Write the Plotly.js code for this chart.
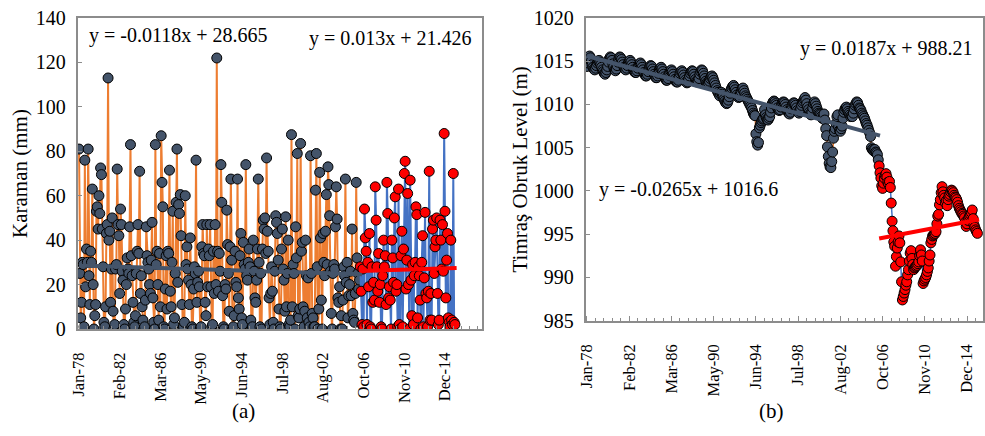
<!DOCTYPE html>
<html>
<head>
<meta charset="utf-8">
<script src="https://cdn.plot.ly/plotly-3.0.1.min.js"></script>
<style>html,body{margin:0;padding:0;background:#fff}#chart{width:985px;height:436px}</style>
</head>
<body>
<div id="chart"></div>
<script>
// Category tick labels (every 49 months on the original category axis)
const tickLabels = ["Jan-78","Feb-82","Mar-86","May-90","Jun-94","Jul-98","Aug-02","Oct-06","Nov-10","Dec-14"];
const tickIndex = [0,49,98,147,196,245,294,343,392,441];

// (a) Karaman monthly precipitation (mm), month index 0 = Jan-78
const karamanEarly = [].concat(
 [81,25,5,12,30,29,1,76,19,36,30,81],
 [24,11,35,30,63,20,0,6,11,53,55,45],
 [60,52,72.5,69.5,45,28,3,1,10,43,47,113],
 [40,44,12,27,50,8,0,2,27,29,72,47],
 [42,16,54,47,26,22,2,0,9,20,32,27],
 [25,46,83,33,24,12,3,1,6,25,35,47],
 [34,71,16,24,10,4,0,1,13,46,33,30],
 [27,20,16,31,48,14,3,0,83,29,35,20],
 [4,34,10,87,66,55,1,0,18,33,9,35],
 [34,71.5,17,10,30,53,2,5,25,57,81,21],
 [56,52,60.5,42,11,0,1,3,60,29,37,27],
 [22,11,41,20,1,0,18,28,25,76,12,21],
 [26,19,0,1,37,47,34,33,12,6,47,19],
 [36,33,47,19,1,2,35,16,47,20,122,35],
 [17,34,26,74,57,15,1,0,20,18,53.5,38],
 [25,8,37,67.5,31,0,1,6,35,21,19,67.5],
 [14,9,33,43,5,2,39,29,27,74,24,22],
 [30,36,28,4,0,1,40,26,14,12,22,36],
 [67.5,30,1,25,0,36,49,45,50,34,77,44],
 [35,14,2,16,28,17,3,0,26,51,48,43],
 [31,9,1,0,36,45,27,22,8,50.5,10,25],
 [40,2,1,4,87.5,10,29,25,0,46,32,79],
 [6,5,9,83.5,35,39,10,1,8,40,24,5],
 [23,3,1,78,25,7,5,1,1,62.5,79,28],
 [0,9,70.5,41,13,0,43,30,24,44,60.5,29],
 [73,65,51,26,7,0,25,29,27,46,64,49.5],
 [14,12,19,0,6,0,13,28,24,67.5,21,30],
 [5,15,20,26,15,45,7,4,3,16,66,32],
 [25,18,22]
);
const karamanLate = [].concat(
 [28,17,2,27,1,54,41,35,2],
 [30,19,43,1,0,28,12,21,13,64,49,28],
 [17,34,12,20,1,0,24,40,28,33,11,66],
 [52,14,19,13,0,40,32,21,50,59.5,17,20],
 [1,63,2,0,33,44,1,36,70,75.5,18,31],
 [61,20,0,67,22,6,29,2,24,30,55,51.5],
 [5,28,24,13,0,30,42,1,23,52.5,16,14],
 [1,17,71,4,16,4,45,49,25,37,40,50],
 [16,2,4,49,40,27,47,26,88,53,14,31],
 [43,5,3,1,40,4,2,70,3,2]
);
const karamanTrend1X = [0, 341], karamanTrend1Y = [28.6, 24.6];
const karamanTrend2X = [339, 455], karamanTrend2Y = [26.1, 27.5];

// (b) Timras Obruk level (m)
const levelEarly = [].concat(
 [1014.4,1014.8,1015.3,1015.6,1015.4,1015.0,1014.6,1014.3,1014.1,1014.0,1014.2,1014.5],
 [1014.8,1015.0,1015.1,1014.9,1014.6,1014.3,1014.0,1013.8,1013.6,1013.5,1013.7,1014.0],
 [1014.4,1014.9,1015.3,1015.5,1015.4,1015.1,1014.7,1014.3,1014.0,1013.9,1014.1,1014.5],
 [1014.9,1015.3,1015.5,1015.4,1015.2,1014.9,1014.6,1014.3,1014.1,1014.0,1014.2,1014.5],
 [1014.8,1015.0,1015.1,1014.9,1014.6,1014.3,1014.0,1013.8,1013.7,1013.7,1013.9,1014.2],
 [1014.5,1014.7,1014.8,1014.6,1014.3,1014.0,1013.7,1013.5,1013.3,1013.3,1013.5,1013.8],
 [1014.1,1014.4,1014.5,1014.4,1014.1,1013.8,1013.5,1013.3,1013.1,1013.1,1013.3,1013.6],
 [1014.0,1014.2,1014.3,1014.1,1013.8,1013.5,1013.2,1013.0,1012.8,1012.8,1013.0,1013.4],
 [1013.7,1013.9,1014.0,1013.8,1013.5,1013.2,1012.9,1012.7,1012.6,1012.6,1012.8,1013.2],
 [1013.6,1013.8,1013.9,1013.7,1013.4,1013.1,1012.8,1012.6,1012.5,1012.6,1012.9,1013.3],
 [1013.6,1013.8,1013.9,1013.8,1013.5,1013.2,1012.9,1012.7,1012.6,1012.7,1013.0,1013.5],
 [1013.8,1014.0,1013.9,1013.6,1013.3,1013.0,1012.7,1012.5,1012.4,1012.5,1012.7,1013.0],
 [1013.2,1013.3,1013.1,1012.8,1012.5,1012.2,1011.9,1011.6,1011.4,1011.2,1011.0,1011.2],
 [1011.4,1011.2,1010.9,1010.6,1010.4,1010.2,1010.1,1010.2,1010.5,1010.9,1011.3,1011.7],
 [1011.9,1012.1,1012.2,1012.0,1011.7,1011.4,1011.1,1010.9,1010.8,1010.9,1011.2,1011.5],
 [1011.8,1011.9,1011.6,1011.3,1011.0,1010.8,1010.6,1010.4,1010.2,1010.0,1009.8,1009.6],
 [1009.3,1009.0,1008.8,1008.7,1006.6,1005.7,1005.3,1005.6,1007.3,1007.6,1007.9,1008.1],
 [1008.3,1008.4,1009.4,1008.8,1008.5,1008.3,1008.2,1008.4,1008.6,1009.1,1009.6,1010.1],
 [1010.3,1010.4,1010.3,1010.1,1009.9,1009.6,1009.4,1009.3,1009.4,1009.7,1010.0,1010.2],
 [1010.3,1010.2,1010.0,1009.7,1009.4,1009.2,1009.0,1008.9,1009.1,1009.5,1009.9,1010.1],
 [1010.2,1010.1,1009.9,1009.6,1009.3,1009.1,1009.0,1009.2,1009.5,1009.9,1010.2,1010.4],
 [1010.6,1010.8,1010.5,1010.1,1009.7,1009.4,1009.1,1008.9,1008.8,1009.1,1009.6,1010.1],
 [1010.3,1010.1,1009.8,1009.5,1009.2,1009.0,1008.9,1008.8,1008.6,1008.4,1008.5,1008.9],
 [1008.2,1007.2,1006.4,1005.1,1004.0,1003.2,1002.8,1002.7,1003.4,1004.5,1006.1,1006.9],
 [1007.2,1007.8,1008.6,1008.8,1007.4,1007.0,1006.9,1007.2,1007.5,1008.4,1009.1,1009.4],
 [1009.6,1009.7,1009.5,1009.2,1009.0,1008.8,1008.6,1008.7,1008.6,1009.0,1009.5,1009.9],
 [1010.1,1010.3,1010.2,1009.9,1009.6,1009.5,1009.3,1009.0,1008.8,1008.6,1008.4,1008.1],
 [1007.8,1007.6,1007.3,1007.0,1006.7,1006.3,1005.0,1004.8,1004.7,1004.6,1004.8,1004.5],
 [1004.4,1004.2,1003.6]
);
const levelLate = [
 1002.9,1002.1,1001.5,1000.6,1000.3,1000.9,1001.5,1001.8,1002.0,
 1001.6,1001.0,1000.8,1001.1,1000.4,998.6,996.5,995.4,994.1,993.6,991.3,992.4,
 993.4,994.1,994.8,994.0,991.8,989.5,987.4,987.8,988.2,988.6,989.1,989.5,
 990.3,990.9,991.9,992.8,993.1,992.2,991.5,990.9,991.1,991.2,991.3,991.4,
 991.6,991.8,992.5,993.2,992.6,991.9,989.3,989.6,989.8,990.0,990.3,990.7,
 991.1,991.9,992.6,994.0,994.4,994.8,994.9,995.0,995.1,995.3,996.2,997.1,
 997.3,998.4,999.0,999.8,1000.5,999.9,999.5,999.2,998.6,998.9,998.3,999.0,
 999.4,999.6,999.9,1000.1,1000.0,999.8,999.5,999.3,999.2,999.0,998.7,998.3,
 998.0,997.8,997.6,997.4,997.3,997.1,996.9,996.4,995.9,996.2,996.6,996.9,
 997.1,997.3,997.5,997.8,996.8,996.1,995.8,995.5,995.3,995.1
];
const levelTrend1X = [0, 340], levelTrend1Y = [1015.6, 1006.4];
const levelTrend2X = [339, 455], levelTrend2Y = [994.5, 996.7];

const equations = ["y = -0.0118x + 28.665","y = 0.013x + 21.426","y = 0.0187x + 988.21","y = -0.0265x + 1016.6"];
const panelLabels = ["(a)","(b)"];
const yTitles = ["Karaman (mm)","Timraş Obruk Level (m)"];

const FONT = "Liberation Serif, Times New Roman, serif";
const ORANGE = "#ED7D31", BLUE = "#4472C4", SLATE = "#44546A", RED = "#FF0000", FRAME = "#8C8C8C";
const W = 985, H = 436;

function series(y, x0, lineColor, markerColor, xa, ya, msize, lw) {
  return {type:"scatter", mode:"lines+markers", y:y, x0:x0, dx:1, xaxis:xa, yaxis:ya,
    line:{color:lineColor, width:lw},
    marker:{color:markerColor, size:msize, line:{color:"#000", width:1}},
    hoverinfo:"skip", showlegend:false, cliponaxis:true};
}
function trend(x, y, color, xa, ya) {
  return {type:"scatter", mode:"lines", x:x, y:y, xaxis:xa, yaxis:ya,
    line:{color:color, width:4}, hoverinfo:"skip", showlegend:false};
}

const data = [
  series(karamanEarly, 0, ORANGE, SLATE, "x", "y", 10, 2),
  series(karamanLate, karamanEarly.length, BLUE, RED, "x", "y", 10, 2),
  trend(karamanTrend1X, karamanTrend1Y, SLATE, "x", "y"),
  trend(karamanTrend2X, karamanTrend2Y, RED, "x", "y"),
  series(levelEarly, 0, ORANGE, SLATE, "x2", "y2", 10, 1.5),
  series(levelLate, levelEarly.length, BLUE, RED, "x2", "y2", 10, 1.5),
  trend(levelTrend1X, levelTrend1Y, SLATE, "x2", "y2"),
  trend(levelTrend2X, levelTrend2Y, RED, "x2", "y2")
];

function xAxis(domain, range, anchor) {
  return {domain:domain, range:range, anchor:anchor, tickmode:"array", tickvals:tickIndex, ticktext:tickLabels,
    tickangle:-90, ticks:"inside", ticklen:5, tickcolor:FRAME, tickwidth:1,
    minor:{tickmode:"linear", tick0:0, dtick:9.8, ticks:"inside", ticklen:3, tickcolor:FRAME},
    showline:true, mirror:true, linecolor:FRAME, linewidth:2, showgrid:false, zeroline:false,
    tickfont:{family:FONT, size:16.5, color:"#000"}, ticklabelstandoff:15, automargin:false, fixedrange:true};
}
function yAxis(domain, range, dtick, anchor, title, standoff) {
  return {domain:domain, range:range, dtick:dtick, anchor:anchor, ticks:"inside", ticklen:4, tickcolor:FRAME,
    showline:true, mirror:true, linecolor:FRAME, linewidth:2, showgrid:false, zeroline:false,
    tickfont:{family:FONT, size:20, color:"#000"}, ticklabelstandoff:6,
    title:{text:title, font:{family:FONT, size:21, color:"#000"}, standoff:standoff},
    automargin:false, fixedrange:true};
}

const layout = {
  width:W, height:H, margin:{l:0,r:0,t:0,b:0}, paper_bgcolor:"#fff", plot_bgcolor:"#fff",
  font:{family:FONT, color:"#000"},
  xaxis: xAxis([77.7/W, 482/W], [-1.6, 485.6], "y"),
  yaxis: yAxis([1-329/H, 1-18/H], [0, 140], 20, "x", yTitles[0], 2),
  xaxis2: xAxis([585.7/W, 983/W], [-1.5, 459.5], "y2"),
  yaxis2: yAxis([1-320.7/H, 1-18/H], [985, 1020], 5, "x2", yTitles[1], 0),
  annotations:[
    {text:equations[0], xref:"paper", yref:"paper", x:87/W, y:1-35/H, xanchor:"left", yanchor:"middle", showarrow:false, font:{family:FONT, size:20}},
    {text:equations[1], xref:"paper", yref:"paper", x:474/W, y:1-38/H, xanchor:"right", yanchor:"middle", showarrow:false, font:{family:FONT, size:20}},
    {text:equations[2], xref:"paper", yref:"paper", x:975/W, y:1-48/H, xanchor:"right", yanchor:"middle", showarrow:false, font:{family:FONT, size:20}},
    {text:equations[3], xref:"paper", yref:"paper", x:597/W, y:1-190/H, xanchor:"left", yanchor:"middle", showarrow:false, font:{family:FONT, size:20}},
    {text:panelLabels[0], xref:"paper", yref:"paper", x:243/W, y:1-411/H, xanchor:"center", yanchor:"middle", showarrow:false, font:{family:FONT, size:21}},
    {text:panelLabels[1], xref:"paper", yref:"paper", x:771/W, y:1-411/H, xanchor:"center", yanchor:"middle", showarrow:false, font:{family:FONT, size:21}}
  ]
};

Plotly.newPlot("chart", data, layout, {staticPlot:true, displayModeBar:false});
</script>
</body>
</html>
